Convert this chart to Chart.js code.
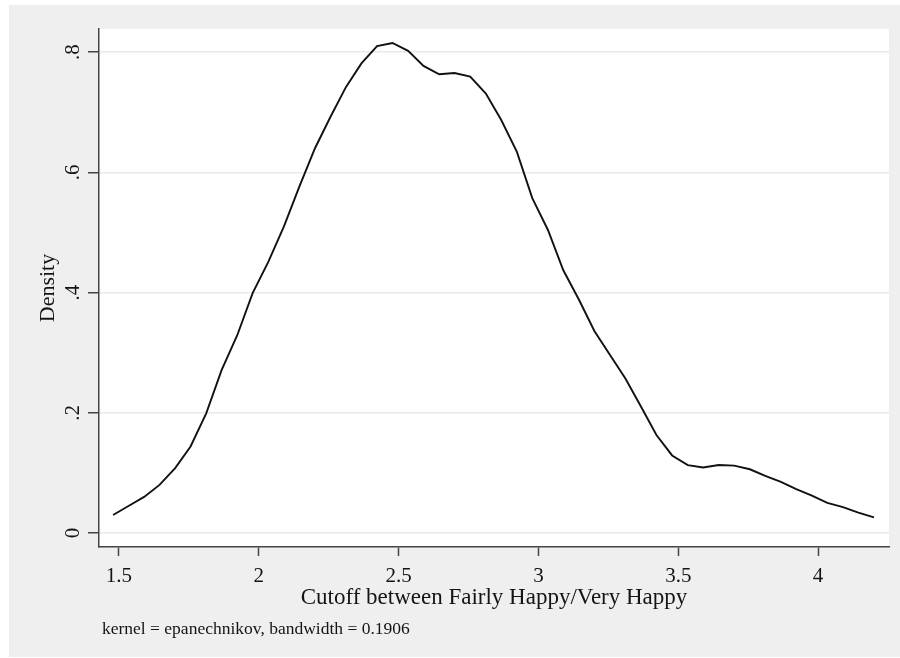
<!DOCTYPE html>
<html>
<head>
<meta charset="utf-8">
<script src="https://cdn.jsdelivr.net/npm/chart.js@4/dist/chart.umd.min.js"></script>
<style>
html,body{margin:0;padding:0;background:#fff;}
#wrap{width:900px;height:658px;position:relative;}
canvas{display:block;}
</style>
</head>
<body>
<div id="wrap"><canvas id="c" width="900" height="658"></canvas></div>
<script>
// ---- data (Stata kdensity, 50 evaluation points) ----
const cutoffValues = [
  1.479, 1.534, 1.590, 1.645, 1.701, 1.756, 1.812, 1.867, 1.923, 1.978,
  2.034, 2.090, 2.145, 2.201, 2.256, 2.312, 2.367, 2.423, 2.478, 2.534,
  2.589, 2.645, 2.700, 2.756, 2.812, 2.867, 2.923, 2.978, 3.034, 3.089,
  3.145, 3.200, 3.256, 3.311, 3.367, 3.422, 3.478, 3.534, 3.589, 3.645,
  3.700, 3.756, 3.811, 3.867, 3.922, 3.978, 4.033, 4.089, 4.144, 4.200
];
const densityValues = [
  0.030, 0.045, 0.060, 0.080, 0.108, 0.144, 0.199, 0.271, 0.329, 0.399,
  0.451, 0.510, 0.576, 0.640, 0.692, 0.742, 0.781, 0.810, 0.815, 0.802,
  0.777, 0.763, 0.765, 0.759, 0.731, 0.687, 0.634, 0.557, 0.504, 0.437,
  0.388, 0.336, 0.296, 0.257, 0.210, 0.163, 0.129, 0.113, 0.109, 0.113,
  0.112, 0.106, 0.095, 0.085, 0.073, 0.062, 0.050, 0.043, 0.034, 0.026
];
const xTickValues = [1.5, 2, 2.5, 3, 3.5, 4];
const yTickValues = [0, 0.2, 0.4, 0.6, 0.8];
const xAxisTitle = 'Cutoff between Fairly Happy/Very Happy';
const yAxisTitle = 'Density';
const noteText = 'kernel = epanechnikov, bandwidth = 0.1906';

const SERIF = '"Liberation Serif", "DejaVu Serif", serif';
const TEXT = '#141414';
const AXIS = '#454545';

const backgroundPlugin = {
  id: 'stataBackground',
  beforeDraw(chart) {
    const ctx = chart.ctx;
    const a = chart.chartArea;
    ctx.save();
    ctx.fillStyle = '#ffffff';
    ctx.fillRect(0, 0, chart.width, chart.height);
    ctx.fillStyle = '#efefef';
    ctx.fillRect(9, 5, chart.width - 9, chart.height - 6);
    ctx.fillStyle = '#ffffff';
    ctx.fillRect(a.left, a.top, a.right - a.left, a.bottom - a.top);
    ctx.restore();
  },
  afterDraw(chart) {
    const ctx = chart.ctx;
    ctx.save();
    ctx.fillStyle = TEXT;
    ctx.font = '17.5px ' + SERIF;
    ctx.textAlign = 'left';
    ctx.textBaseline = 'alphabetic';
    ctx.fillText(noteText, 102, 634);
    ctx.restore();
  }
};

new Chart(document.getElementById('c'), {
  type: 'line',
  data: {
    datasets: [{
      data: cutoffValues.map((x, i) => ({ x: x, y: densityValues[i] })),
      borderColor: '#111111',
      borderWidth: 1.9,
      pointRadius: 0,
      tension: 0,
      fill: false
    }]
  },
  options: {
    responsive: false,
    devicePixelRatio: 1,
    animation: false,
    layout: { padding: { left: 0, top: 29, right: 11, bottom: 0 } },
    plugins: { legend: { display: false }, tooltip: { enabled: false } },
    scales: {
      x: {
        type: 'linear',
        min: 1.4286,
        max: 4.2536,
        afterBuildTicks: s => { s.ticks = xTickValues.map(v => ({ value: v })); },
        afterFit: s => { s.height = 111; },
        grid: { drawOnChartArea: false, drawTicks: true, tickLength: 9, tickColor: AXIS, tickWidth: 1.5 },
        border: { display: true, color: AXIS, width: 1.5 },
        ticks: {
          autoSkip: false, minRotation: 0, maxRotation: 0, padding: 8,
          color: TEXT, font: { family: SERIF, size: 21 },
          callback: v => String(v)
        },
        title: {
          display: true, text: xAxisTitle, color: TEXT,
          font: { family: SERIF, size: 23 },
          padding: { top: 0, bottom: 46 }
        }
      },
      y: {
        type: 'linear',
        min: -0.02328,
        max: 0.8383,
        afterBuildTicks: s => { s.ticks = yTickValues.map(v => ({ value: v })); },
        afterFit: s => { s.width = 99; },
        grid: { color: '#e9e9e9', lineWidth: 1.5, drawTicks: true, tickLength: 11, tickColor: AXIS, tickWidth: 1.5 },
        border: { display: true, color: AXIS, width: 1.5 },
        ticks: {
          minRotation: 90, maxRotation: 90, crossAlign: 'center', padding: 7,
          color: TEXT, font: { family: SERIF, size: 21 },
          callback: v => (v === 0 ? '0' : String(v).replace(/^0/, ''))
        },
        title: {
          display: true, text: yAxisTitle, color: TEXT,
          font: { family: SERIF, size: 22 },
          padding: { top: 35, bottom: 0 }
        }
      }
    }
  },
  plugins: [backgroundPlugin]
});
</script>
</body>
</html>
